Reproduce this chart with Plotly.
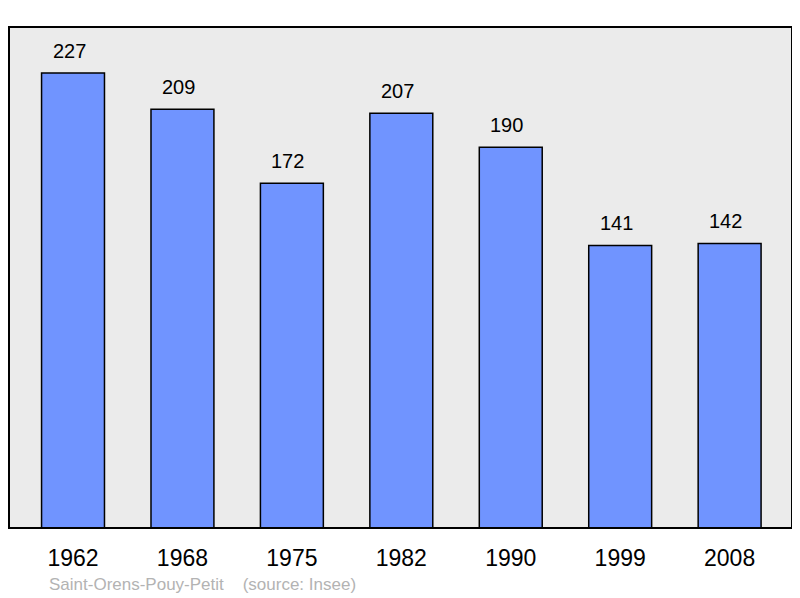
import plotly.graph_objects as go

years = ["1962", "1968", "1975", "1982", "1990", "1999", "2008"]
population = [227, 209, 172, 207, 190, 141, 142]
source_text = "Saint-Orens-Pouy-Petit    (source: Insee)"

fig = go.Figure()
fig.add_trace(go.Bar(
    x=list(range(len(years))), y=population, width=0.575,
    marker=dict(color="#7094ff", line=dict(color="#000000", width=1.5)),
    hoverinfo="skip",
))

for i, v in enumerate(population):
    fig.add_annotation(x=i, y=v, text=str(v), showarrow=False, yshift=22, xshift=-4,
                       font=dict(family="Liberation Sans, Arial", size=20, color="#000"))

fig.add_annotation(xref="paper", yref="paper", x=0.048, y=-0.112, xanchor="left",
                   yanchor="middle", text=source_text, showarrow=False,
                   font=dict(family="Liberation Sans, Arial", size=17, color="#b3b3b3"))

fig.add_shape(type="rect", xref="paper", yref="paper", x0=0, x1=1, y0=0, y1=1,
              line=dict(color="#000", width=2), layer="above")

fig.update_layout(
    width=792, height=590,
    margin=dict(l=1, r=8, t=19, b=70),
    paper_bgcolor="#ffffff", plot_bgcolor="#ebebeb",
    showlegend=False,
    xaxis=dict(range=[-0.585, 6.57], tickmode="array", tickvals=list(range(len(years))),
               ticktext=years, showgrid=False, zeroline=False, ticks="outside",
               ticklen=9, tickcolor="rgba(0,0,0,0)",
               tickfont=dict(family="Liberation Sans, Arial", size=23, color="#000")),
    yaxis=dict(range=[0, 250], showgrid=False, zeroline=False, showticklabels=False),
)

fig.write_html("out.html")
